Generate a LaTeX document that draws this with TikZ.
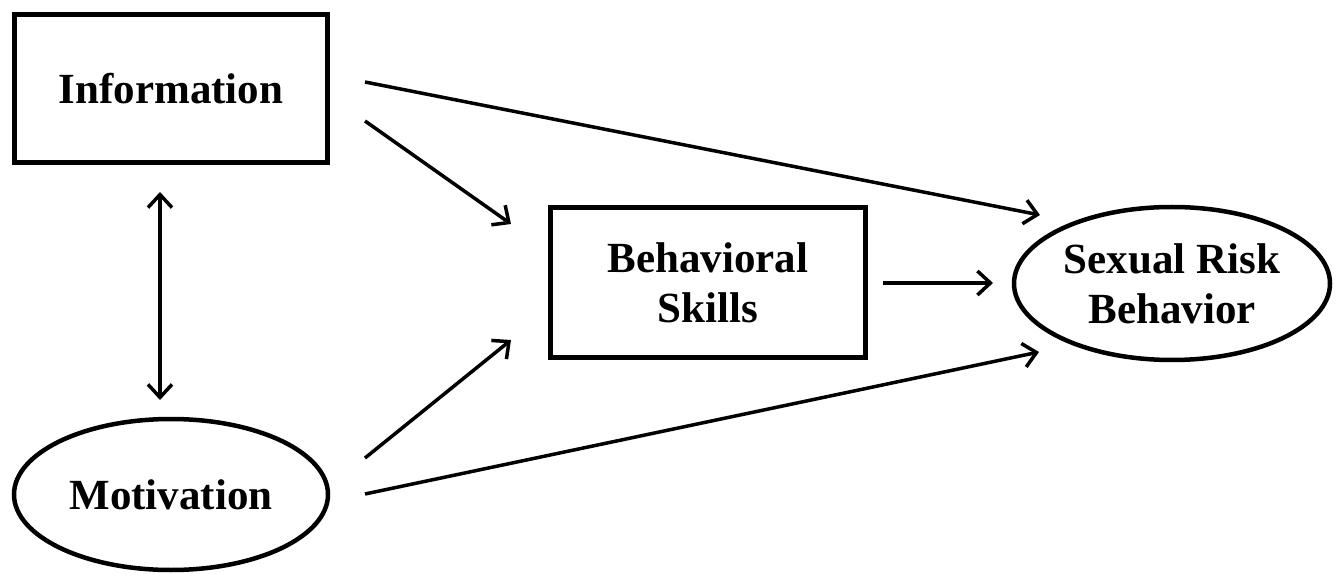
\documentclass[tikz,border=0pt]{standalone}
\usepackage{fontspec}
\setmainfont{Liberation Serif}
\usetikzlibrary{shapes.geometric,arrows.meta}
\begin{document}
\begin{tikzpicture}[x=1pt,y=-1pt,
  lbl/.style={font=\fontsize{43}{50}\selectfont\bfseries, align=center, inner sep=0pt},
  boxnode/.style={lbl, draw, line width=5.5pt, minimum width=313pt, minimum height=148pt},
  ellnode/.style={lbl, draw, ellipse, line width=4.5pt},
  tip/.tip={Straight Barb[length=13pt,width=24pt,line width=3.5pt]},
  arr/.style={line width=3.5pt, -tip},
  darr/.style={line width=3.5pt, tip-tip}
]
\useasboundingbox[fill=white] (0,0) rectangle (1342,577);

\node[boxnode] (info) at (171,88.5) {Information};
\node[boxnode, minimum width=315pt, minimum height=150pt] (bs) at (708,282.5) {Behavioral\\Skills};
\node[ellnode, minimum width=314pt, minimum height=151pt] (mot) at (171,494.5) {Motivation};
\node[ellnode, minimum width=316pt, minimum height=153pt] (srb) at (1172,283.5) {Sexual Risk\\Behavior};

\coordinate (a1) at (365,82);   \coordinate (b1) at (1040,215);
\coordinate (a2) at (365,121);  \coordinate (b2) at (511,224);
\coordinate (a3) at (365,458);  \coordinate (b3) at (511,340);
\coordinate (a4) at (365,494);  \coordinate (b4) at (1039,352);
\coordinate (a5) at (883,283);  \coordinate (b5) at (993,283);
\coordinate (v1) at (160,192);  \coordinate (v2) at (160,400);

\draw[arr] (a1) -- (b1);
\draw[arr] (a2) -- (b2);
\draw[arr] (a3) -- (b3);
\draw[arr] (a4) -- (b4);
\draw[arr] (a5) -- (b5);
\draw[darr] (v1) -- (v2);
\end{tikzpicture}
\end{document}
